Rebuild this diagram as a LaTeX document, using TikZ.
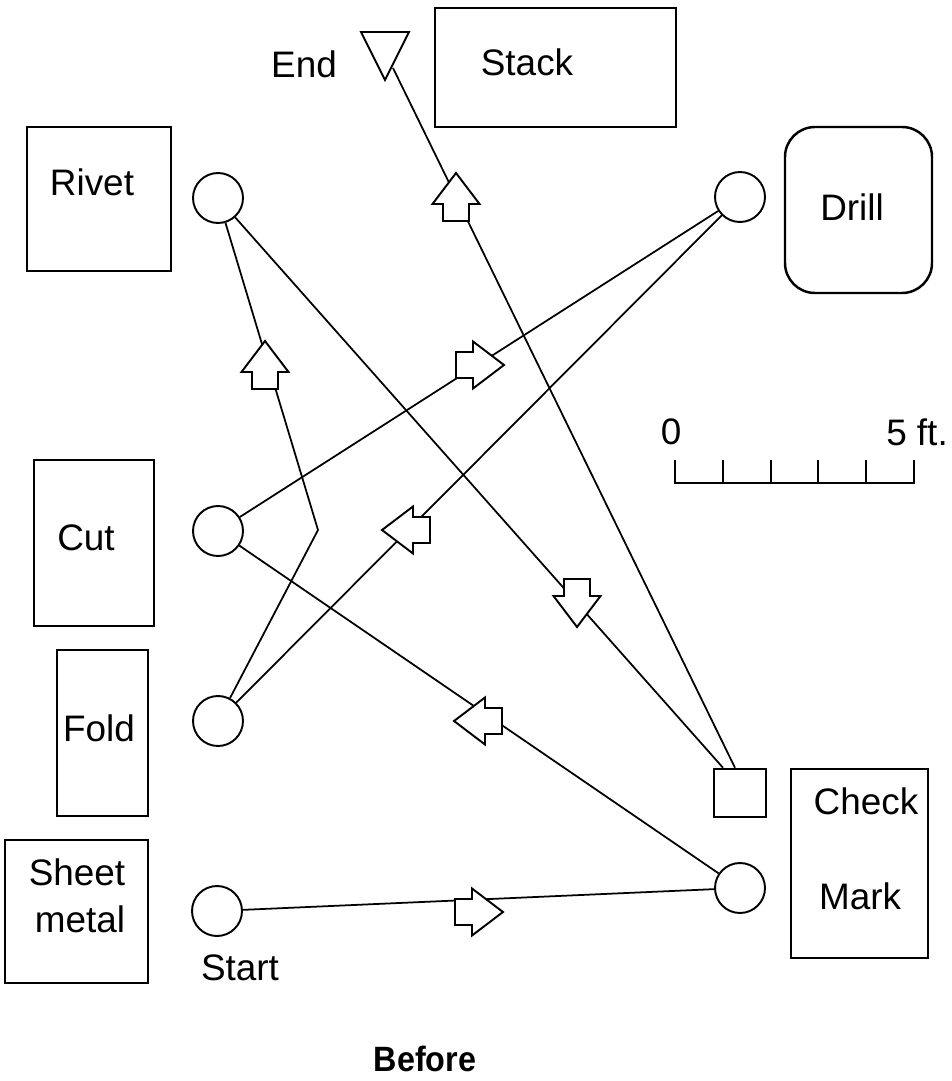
\documentclass[tikz,border=0pt]{standalone}
\usepackage{fontspec}
\setmainfont{Liberation Sans}
\begin{document}
\begin{tikzpicture}[x=0.02cm,y=-0.02cm,
  box/.style={draw,line width=1.4pt},
  station/.style={draw,circle,minimum size=1cm,inner sep=0pt,line width=1.1pt},
  inspect/.style={draw,rectangle,minimum width=1.04cm,minimum height=0.96cm,inner sep=0pt,line width=1.4pt},
  conn/.style={line width=1pt},
  lbl/.style={font=\fontsize{21}{25}\selectfont,inner sep=0pt},
  blockarrow/.pic={\draw[line width=1.1pt,fill=white] (-24,-13) -- (-7,-13) -- (-7,-23.5) -- (24,0) -- (-7,23.5) -- (-7,13) -- (-24,13) -- cycle;}
]
\useasboundingbox[fill=white] (0,0) rectangle (952,1081);

% area boxes
\draw[box] (435,8) rectangle (676,127);
\draw[box] (27,127) rectangle (171,271);
\draw[box,rounded corners=0.6cm] (785,127) rectangle (932,293);
\draw[box] (34,460) rectangle (154,626);
\draw[box] (57,650) rectangle (148,816);
\draw[box] (5,840) rectangle (148,983);
\draw[box] (791,769) rectangle (928,958);

% labels
\node[lbl] (tEnd) at (304,64) {End};
\node[lbl] (tStack) at (527,62) {Stack};
\node[lbl] (tRivet) at (92,182) {Rivet};
\node[lbl] (tDrill) at (852,207) {Drill};
\node[lbl] (tCut) at (86,538) {Cut};
\node[lbl] (tFold) at (99,728) {Fold};
\node[lbl] (tSheet) at (77,872) {Sheet};
\node[lbl] (tMetal) at (80,919) {metal};
\node[lbl] (tStart) at (240,968) {Start};
\node[lbl] (tCheck) at (866,801) {Check};
\node[lbl] (tMark) at (860,896) {Mark};
\node[lbl] (tZero) at (671,432) {0};
\node[lbl] (tFive) at (917,432) {5 ft.};
\node[lbl,font=\fontsize{20}{24}\selectfont\bfseries,xscale=0.92] (tBefore) at (425,1059) {Before};

% scale bar
\draw[line width=1.4pt] (675,460) -- (675,483) -- (914,483) -- (914,460);
\foreach \x in {723,771,818,866} \draw[line width=1.4pt] (\x,460) -- (\x,483);

% stations
\node[station] (rivetc) at (218,198) {};
\node[station] (drillc) at (740,197) {};
\node[station] (cutc) at (218,531) {};
\node[station] (foldc) at (218,721) {};
\node[station] (startc) at (217,911) {};
\node[station] (markc) at (740,888) {};
\node[inspect] (check) at (740,793) {};
\draw[line width=1.1pt] (361,32) -- (409,32) -- (385,80) -- cycle;
\coordinate (endpt) at (393,68);
\coordinate (bend) at (318,530);

% connectors
\draw[conn] (startc) -- (markc);
\draw[conn] (markc) -- (cutc);
\draw[conn] (cutc) -- (drillc);
\draw[conn] (drillc) -- (foldc);
\draw[conn] (foldc) -- (bend) -- (rivetc);
\draw[conn] (rivetc) -- ([xshift=-0.34cm]check.north);
\draw[conn] ([xshift=-0.1cm]check.north) -- (endpt);

% flow arrows
\pic at (479,912) {blockarrow};
\pic[rotate=180] at (478,721) {blockarrow};
\pic at (480,365) {blockarrow};
\pic[rotate=180] at (406,530) {blockarrow};
\pic[rotate=90] at (265,365) {blockarrow};
\pic[rotate=270] at (577,603) {blockarrow};
\pic[rotate=90] at (456,197) {blockarrow};
\end{tikzpicture}
\end{document}
